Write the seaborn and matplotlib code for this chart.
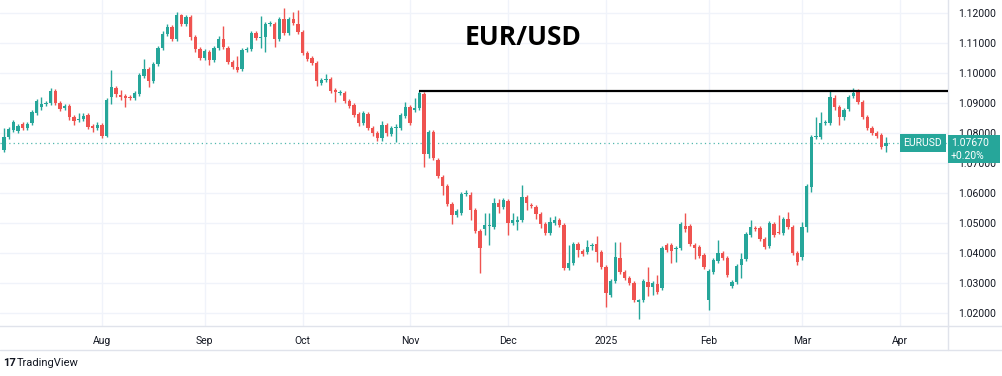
import pandas as pd
import matplotlib.pyplot as plt
import seaborn as sns

# EUR/USD daily candles, 3 Jul 2024 - 27 Mar 2025
opens = [1.0743, 1.0787, 1.0810, 1.0807, 1.0830, 1.0817, 1.0833, 1.0867, 1.0887, 1.0897,
         1.0900, 1.0940, 1.0900, 1.0883, 1.0890, 1.0853, 1.0843, 1.0847, 1.0860, 1.0823,
         1.0817, 1.0827, 1.0790, 1.0920, 1.0950, 1.0927, 1.0923, 1.0920, 1.0917, 1.0930,
         1.0990, 1.1013, 1.0973, 1.1030, 1.1083, 1.1130, 1.1153, 1.1113, 1.1193, 1.1163,
         1.1187, 1.1120, 1.1080, 1.1050, 1.1070, 1.1043, 1.1083, 1.1113, 1.1083, 1.1037,
         1.1020, 1.1013, 1.1077, 1.1080, 1.1133, 1.1117, 1.1120, 1.1163, 1.1163, 1.1113,
         1.1180, 1.1133, 1.1180, 1.1163, 1.1137, 1.1067, 1.1050, 1.1033, 1.0967, 1.0977,
         1.0980, 1.0943, 1.0933, 1.0933, 1.0907, 1.0893, 1.0863, 1.0833, 1.0863, 1.0817,
         1.0800, 1.0783, 1.0827, 1.0797, 1.0817, 1.0817, 1.0857, 1.0887, 1.0877, 1.0883,
         1.0930, 1.0730, 1.0803, 1.0710, 1.0653, 1.0623, 1.0563, 1.0527, 1.0533, 1.0597,
         1.0593, 1.0543, 1.0473, 1.0480, 1.0490, 1.0487, 1.0567, 1.0553, 1.0573, 1.0500,
         1.0503, 1.0510, 1.0587, 1.0560, 1.0553, 1.0530, 1.0497, 1.0467, 1.0500, 1.0510,
         1.0493, 1.0350, 1.0367, 1.0430, 1.0407, 1.0403, 1.0423, 1.0430, 1.0403, 1.0353,
         1.0260, 1.0307, 1.0383, 1.0337, 1.0317, 1.0300, 1.0238, 1.0243, 1.0303, 1.0287,
         1.0297, 1.0283, 1.0427, 1.0427, 1.0413, 1.0417, 1.0490, 1.0490, 1.0427, 1.0420,
         1.0393, 1.0243, 1.0337, 1.0373, 1.0400, 1.0383, 1.0290, 1.0303, 1.0360, 1.0380,
         1.0460, 1.0483, 1.0483, 1.0447, 1.0423, 1.0497, 1.0470, 1.0467, 1.0513, 1.0487,
         1.0400, 1.0387, 1.0487, 1.0620, 1.0787, 1.0787, 1.0833, 1.0833, 1.0917, 1.0887,
         1.0853, 1.0880, 1.0923, 1.0937, 1.0903, 1.0853, 1.0817, 1.0800, 1.0793, 1.0757]
highs = [1.0817, 1.0820, 1.0843, 1.0830, 1.0837, 1.0837, 1.0877, 1.0913, 1.0920, 1.0907,
         1.0950, 1.0947, 1.0907, 1.0897, 1.0897, 1.0860, 1.0867, 1.0867, 1.0867, 1.0830,
         1.0837, 1.0833, 1.0917, 1.1010, 1.0957, 1.0943, 1.0930, 1.0927, 1.0940, 1.1000,
         1.1047, 1.1020, 1.1037, 1.1090, 1.1140, 1.1163, 1.1160, 1.1203, 1.1197, 1.1193,
         1.1193, 1.1127, 1.1087, 1.1080, 1.1077, 1.1090, 1.1123, 1.1157, 1.1090, 1.1043,
         1.1057, 1.1083, 1.1087, 1.1140, 1.1140, 1.1190, 1.1170, 1.1173, 1.1170, 1.1187,
         1.1217, 1.1187, 1.1203, 1.1210, 1.1143, 1.1073, 1.1057, 1.1040, 1.0983, 1.0997,
         1.0987, 1.0950, 1.0943, 1.0940, 1.0913, 1.0900, 1.0870, 1.0873, 1.0870, 1.0823,
         1.0807, 1.0840, 1.0833, 1.0823, 1.0830, 1.0867, 1.0903, 1.0893, 1.0917, 1.0940,
         1.0937, 1.0810, 1.0810, 1.0717, 1.0660, 1.0630, 1.0570, 1.0547, 1.0603, 1.0610,
         1.0603, 1.0550, 1.0480, 1.0533, 1.0533, 1.0583, 1.0580, 1.0583, 1.0580, 1.0533,
         1.0523, 1.0627, 1.0593, 1.0567, 1.0560, 1.0537, 1.0503, 1.0520, 1.0523, 1.0517,
         1.0500, 1.0427, 1.0437, 1.0437, 1.0413, 1.0443, 1.0433, 1.0457, 1.0410, 1.0360,
         1.0313, 1.0437, 1.0437, 1.0343, 1.0323, 1.0307, 1.0247, 1.0313, 1.0353, 1.0307,
         1.0327, 1.0423, 1.0433, 1.0433, 1.0423, 1.0503, 1.0533, 1.0497, 1.0433, 1.0427,
         1.0400, 1.0347, 1.0383, 1.0443, 1.0407, 1.0390, 1.0310, 1.0363, 1.0400, 1.0470,
         1.0510, 1.0490, 1.0490, 1.0453, 1.0507, 1.0503, 1.0527, 1.0520, 1.0537, 1.0493,
         1.0407, 1.0503, 1.0630, 1.0793, 1.0853, 1.0870, 1.0843, 1.0943, 1.0927, 1.0893,
         1.0883, 1.0927, 1.0950, 1.0947, 1.0910, 1.0860, 1.0823, 1.0807, 1.0800, 1.0787]
lows = [1.0737, 1.0780, 1.0803, 1.0800, 1.0810, 1.0810, 1.0827, 1.0860, 1.0877, 1.0890,
        1.0893, 1.0893, 1.0873, 1.0877, 1.0843, 1.0827, 1.0837, 1.0840, 1.0813, 1.0803,
        1.0810, 1.0783, 1.0787, 1.0897, 1.0920, 1.0910, 1.0887, 1.0910, 1.0910, 1.0923,
        1.0983, 1.0953, 1.0967, 1.1023, 1.1077, 1.1123, 1.1107, 1.1107, 1.1157, 1.1157,
        1.1110, 1.1070, 1.1043, 1.1043, 1.1027, 1.1037, 1.1077, 1.1080, 1.1030, 1.1013,
        1.1003, 1.1007, 1.1070, 1.1073, 1.1110, 1.1083, 1.1070, 1.1157, 1.1087, 1.1107,
        1.1127, 1.1127, 1.1160, 1.1130, 1.1060, 1.1040, 1.1027, 1.0957, 1.0960, 1.0970,
        1.0933, 1.0903, 1.0927, 1.0900, 1.0883, 1.0853, 1.0823, 1.0827, 1.0810, 1.0790,
        1.0773, 1.0773, 1.0790, 1.0790, 1.0770, 1.0810, 1.0850, 1.0827, 1.0870, 1.0877,
        1.0687, 1.0717, 1.0710, 1.0650, 1.0593, 1.0557, 1.0497, 1.0520, 1.0527, 1.0590,
        1.0510, 1.0467, 1.0333, 1.0460, 1.0427, 1.0480, 1.0533, 1.0547, 1.0460, 1.0493,
        1.0477, 1.0503, 1.0543, 1.0550, 1.0513, 1.0483, 1.0460, 1.0460, 1.0493, 1.0487,
        1.0343, 1.0343, 1.0360, 1.0387, 1.0390, 1.0397, 1.0410, 1.0370, 1.0347, 1.0220,
        1.0253, 1.0300, 1.0330, 1.0310, 1.0293, 1.0237, 1.0180, 1.0237, 1.0257, 1.0260,
        1.0263, 1.0277, 1.0403, 1.0367, 1.0370, 1.0410, 1.0470, 1.0423, 1.0380, 1.0383,
        1.0347, 1.0210, 1.0330, 1.0367, 1.0377, 1.0320, 1.0283, 1.0297, 1.0317, 1.0373,
        1.0453, 1.0473, 1.0440, 1.0413, 1.0417, 1.0453, 1.0463, 1.0460, 1.0480, 1.0393,
        1.0360, 1.0377, 1.0470, 1.0603, 1.0780, 1.0780, 1.0827, 1.0827, 1.0877, 1.0827,
        1.0843, 1.0873, 1.0917, 1.0897, 1.0847, 1.0810, 1.0793, 1.0783, 1.0747, 1.0737]
closes = [1.0787, 1.0813, 1.0837, 1.0823, 1.0817, 1.0830, 1.0870, 1.0907, 1.0897, 1.0900,
          1.0940, 1.0900, 1.0880, 1.0890, 1.0853, 1.0840, 1.0847, 1.0857, 1.0820, 1.0817,
          1.0827, 1.0790, 1.0910, 1.0953, 1.0930, 1.0920, 1.0917, 1.0917, 1.0933, 1.0993,
          1.1013, 1.0973, 1.1030, 1.1083, 1.1130, 1.1153, 1.1113, 1.1193, 1.1163, 1.1187,
          1.1120, 1.1080, 1.1050, 1.1073, 1.1043, 1.1083, 1.1113, 1.1087, 1.1037, 1.1020,
          1.1010, 1.1077, 1.1080, 1.1133, 1.1117, 1.1120, 1.1163, 1.1167, 1.1113, 1.1180,
          1.1133, 1.1180, 1.1167, 1.1137, 1.1067, 1.1047, 1.1033, 1.0973, 1.0977, 1.0980,
          1.0940, 1.0937, 1.0937, 1.0907, 1.0890, 1.0860, 1.0833, 1.0867, 1.0817, 1.0800,
          1.0783, 1.0827, 1.0800, 1.0817, 1.0820, 1.0860, 1.0887, 1.0833, 1.0883, 1.0933,
          1.0730, 1.0803, 1.0717, 1.0657, 1.0623, 1.0563, 1.0527, 1.0540, 1.0597, 1.0600,
          1.0543, 1.0473, 1.0417, 1.0493, 1.0493, 1.0567, 1.0553, 1.0577, 1.0500, 1.0510,
          1.0510, 1.0587, 1.0567, 1.0557, 1.0530, 1.0497, 1.0467, 1.0503, 1.0510, 1.0493,
          1.0350, 1.0367, 1.0430, 1.0410, 1.0397, 1.0420, 1.0427, 1.0403, 1.0353, 1.0267,
          1.0307, 1.0387, 1.0337, 1.0317, 1.0300, 1.0243, 1.0243, 1.0307, 1.0287, 1.0300,
          1.0270, 1.0417, 1.0410, 1.0407, 1.0417, 1.0497, 1.0480, 1.0430, 1.0417, 1.0390,
          1.0353, 1.0340, 1.0377, 1.0400, 1.0383, 1.0327, 1.0303, 1.0357, 1.0380, 1.0463,
          1.0487, 1.0480, 1.0447, 1.0420, 1.0500, 1.0460, 1.0467, 1.0513, 1.0487, 1.0400,
          1.0370, 1.0487, 1.0623, 1.0787, 1.0790, 1.0833, 1.0837, 1.0920, 1.0887, 1.0853,
          1.0877, 1.0920, 1.0933, 1.0903, 1.0853, 1.0817, 1.0800, 1.0790, 1.0753, 1.0767]

holidays = ['2024-12-25', '2025-01-01']
month_labels = ['Aug', 'Sep', 'Oct', 'Nov', 'Dec', '2025', 'Feb', 'Mar', 'Apr']
price_ticks = [1.02, 1.03, 1.04, 1.05, 1.06, 1.07, 1.08, 1.09, 1.10, 1.11, 1.12]
resistance = 1.0940
resistance_from = '2024-11-05'
last_price = 1.0767
last_change = '+0.20%'

GREEN = '#26a69a'
RED = '#ef5350'
GRID = '#f0f3fa'
TEXT = '#131722'

# trading-day calendar (extended a few days past the data so "Apr" gets a slot)
days = pd.bdate_range('2024-07-03', '2025-04-30')
days = days[~days.isin(pd.to_datetime(holidays))]
df = pd.DataFrame({'open': opens, 'high': highs, 'low': lows, 'close': closes},
                  index=days[:len(closes)])
df['pos'] = range(len(df))
df['up'] = df['close'] >= df['open']

month_pos = []
for m in ['2024-08', '2024-09', '2024-10', '2024-11', '2024-12',
          '2025-01', '2025-02', '2025-03', '2025-04']:
    month_pos.append(int(days.get_indexer([days[days.strftime('%Y-%m') == m][0]])[0]))

sns.set_style('white')
plt.rcParams['font.family'] = ['Roboto', 'DejaVu Sans']

fig = plt.figure(figsize=(10.02, 3.76), dpi=100)
ax = fig.add_axes([0, 50 / 376, 948 / 1002, 326 / 376])

colors = [GREEN if u else RED for u in df['up']]
ax.vlines(df['pos'], df['low'], df['high'], colors=colors, lw=1, zorder=3)
body = (df['close'] - df['open']).abs().clip(lower=0.00015)
ax.bar(df['pos'], body, bottom=df[['open', 'close']].min(axis=1), width=0.75,
       color=colors, linewidth=0, zorder=4)

ax.axhline(last_price, color=GREEN, lw=0.9, ls=(0, (1, 2.5)), alpha=0.8, zorder=2)
ax.hlines(resistance, df.loc[resistance_from, 'pos'], 210, color='black', lw=1.6, zorder=5)

ax.set_xlim(-0.86, 202.3)
ax.set_ylim(1.01567, 1.12433)
ax.set_xticks(month_pos)
ax.set_xticklabels(month_labels)
ax.set_yticks(price_ticks)
ax.set_yticklabels([f'{t:.5f}' for t in price_ticks])
ax.yaxis.tick_right()
ax.tick_params(axis='both', length=0, labelsize=7.5, labelcolor=TEXT)
ax.tick_params(axis='x', pad=7)
ax.tick_params(axis='y', pad=7)
ax.grid(True, color=GRID, lw=1)
for side in ['top', 'left']:
    ax.spines[side].set_visible(False)
for side in ['right', 'bottom']:
    ax.spines[side].set_color('#e0e3eb')
    ax.spines[side].set_linewidth(1)

ax.text(0.552, 0.885, 'EUR/USD', transform=ax.transAxes, ha='center', va='center',
        fontsize=19, fontweight='bold', color='black', family=['Open Sans', 'DejaVu Sans'])

# last-price labels
ax.text(201.0, last_price, 'EURUSD', ha='right', va='center', fontsize=7.5, color='white',
        bbox=dict(boxstyle='square,pad=0.35', fc=GREEN, ec='none'), zorder=6)
fig.text(951 / 1002, 1 - 143 / 376, f'{last_price:.5f}', ha='left', va='center',
         fontsize=7.5, color='white', zorder=6)
fig.text(951 / 1002, 1 - 156 / 376, last_change, ha='left', va='center',
         fontsize=7.5, color='white', zorder=6)
fig.patches.append(plt.Rectangle((948 / 1002, 1 - 163 / 376), 52 / 1002, 28 / 376,
                                 transform=fig.transFigure, fc=GREEN, ec='none', zorder=5))

# bottom strip borders
fig.add_artist(plt.Line2D([0, 1], [1 - 350 / 376] * 2, color='#e0e3eb', lw=1))
fig.add_artist(plt.Line2D([948 / 1002] * 2, [1 - 350 / 376, 1 - 326 / 376], color='#e0e3eb', lw=1))
fig.add_artist(plt.Line2D([948 / 1002, 1], [1 - 326 / 376] * 2, color='#e0e3eb', lw=1))

fig.text(3 / 1002, 1 - 363 / 376, '17', fontsize=8, fontweight='bold', color=TEXT, va='center')
fig.text(17 / 1002, 1 - 363 / 376, 'TradingView', fontsize=8, color=TEXT, va='center')

fig.savefig('out.png', dpi=100, facecolor='white')
